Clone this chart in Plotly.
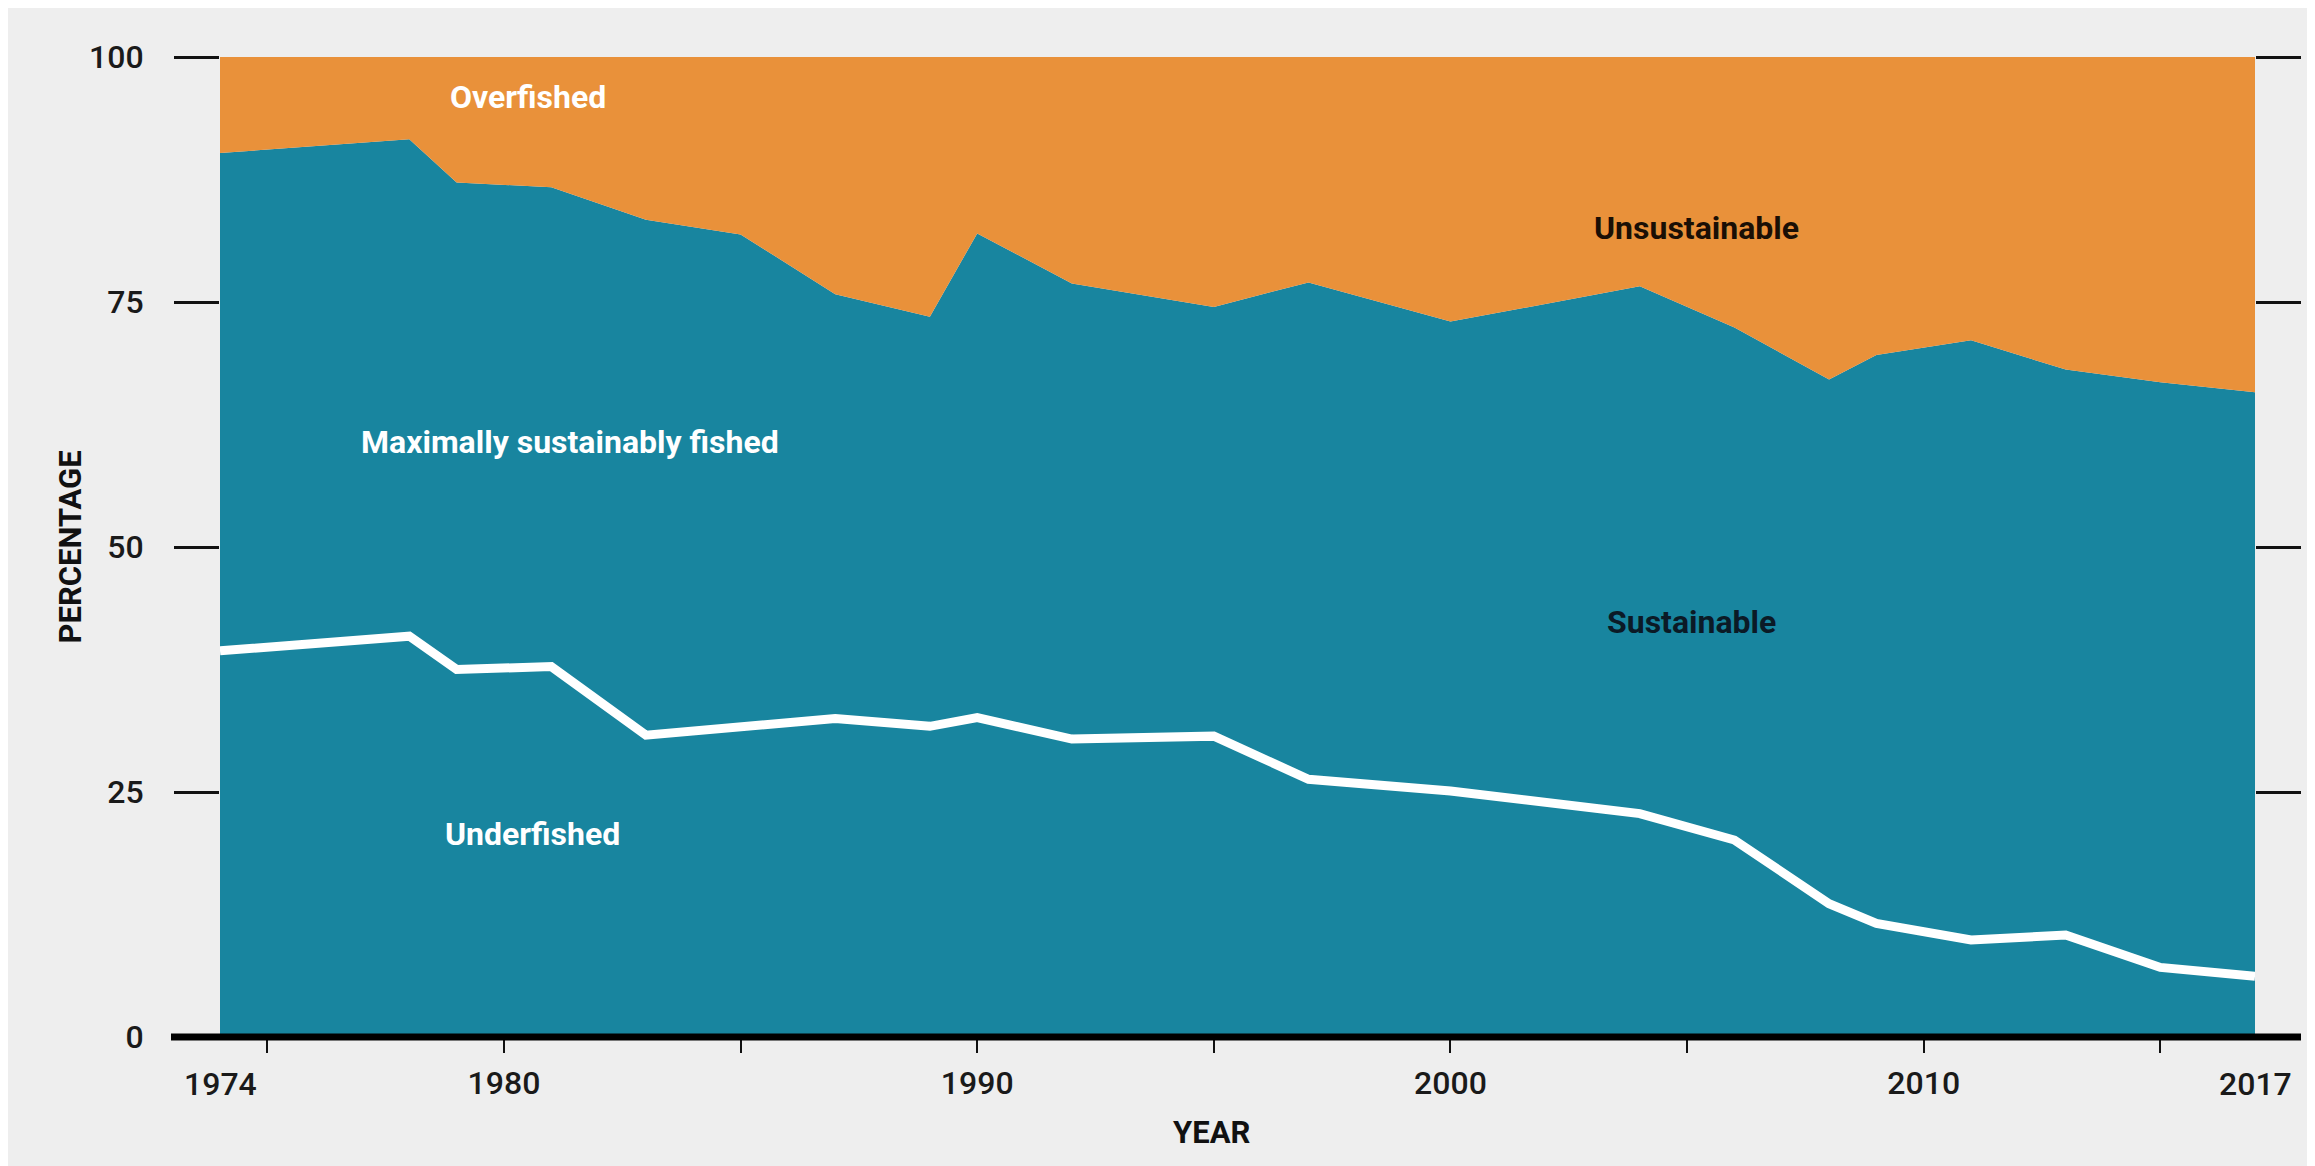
import plotly.graph_objects as go

# ---- data ----
years = [1974, 1978, 1979, 1981, 1983, 1985, 1987, 1989, 1990, 1992, 1995,
         1997, 2000, 2004, 2006, 2008, 2009, 2011, 2013, 2015, 2017]
# share of stocks fished within biologically sustainable levels (%)
sustainable = [90.2, 91.6, 87.2, 86.7, 83.4, 81.9, 75.8, 73.5, 82.0, 76.9, 74.5,
               77.0, 73.0, 76.6, 72.4, 67.1, 69.6, 71.1, 68.1, 66.8, 65.8]
# share of underfished stocks (%)
underfished = [39.4, 40.9, 37.5, 37.8, 30.8, 31.7, 32.5, 31.7, 32.6, 30.4, 30.7,
               26.3, 25.1, 22.8, 20.1, 13.6, 11.6, 9.9, 10.4, 7.1, 6.2]
maximally = [round(s - u, 2) for s, u in zip(sustainable, underfished)]
overfished = [round(100 - s, 2) for s in sustainable]

x_tick_vals = [1975, 1980, 1985, 1990, 1995, 2000, 2005, 2010, 2015]
x_tick_text = ["", "1980", "", "1990", "", "2000", "", "2010", ""]
y_tick_vals = [0, 25, 50, 75, 100]

TEAL = "#18859F"
ORANGE = "#E9913A"
BG = "#EEEEEE"
FONT = "Roboto, Liberation Sans Narrow, sans-serif"
TICKFONT = dict(size=32, family=FONT, color="#1a1a1a", weight=500)

fig = go.Figure()
fig.add_trace(go.Scatter(x=years, y=underfished, stackgroup="s", mode="lines",
                         line=dict(width=0), fillcolor=TEAL, name="Underfished",
                         hoverinfo="skip"))
fig.add_trace(go.Scatter(x=years, y=maximally, stackgroup="s", mode="lines",
                         line=dict(width=0), fillcolor=TEAL,
                         name="Maximally sustainably fished", hoverinfo="skip"))
fig.add_trace(go.Scatter(x=years, y=overfished, stackgroup="s", mode="lines",
                         line=dict(width=0), fillcolor=ORANGE, name="Overfished",
                         hoverinfo="skip"))
fig.add_trace(go.Scatter(x=years, y=underfished, mode="lines",
                         line=dict(color="white", width=9), name="Underfished line",
                         hoverinfo="skip"))

W, H = 2315, 1166
L, R, T, B = 212, 68, 49, 137
pw = W - L - R
ph = H - T - B

fig.update_layout(
    width=W, height=H,
    margin=dict(l=L, r=R, t=T, b=B),
    paper_bgcolor=BG, plot_bgcolor=BG,
    showlegend=False,
    font=dict(family=FONT, color="#1a1a1a"),
    xaxis=dict(range=[years[0], years[-1]], tickmode="array",
               tickvals=x_tick_vals, ticktext=x_tick_text,
               ticks="outside", ticklen=15, tickwidth=2, tickcolor="#111",
               showgrid=False, zeroline=False, showline=False,
               tickfont=TICKFONT, ticklabelstandoff=3),
    yaxis=dict(range=[0, 100], tickmode="array", tickvals=y_tick_vals,
               ticks="outside", ticklen=45, tickwidth=2.5, tickcolor="#111",
               mirror="ticks", showgrid=False, zeroline=False, showline=False,
               tickfont=TICKFONT, ticklabelstandoff=24),
)

# thick baseline extending beyond the data area
fig.add_shape(type="line", xref="paper", yref="paper",
              x0=-49 / pw, x1=1 + 46 / pw, y0=0, y1=0,
              line=dict(color="black", width=7), layer="above")

# end-year labels (no tick marks at the data ends)
for yr in (years[0], years[-1]):
    fig.add_annotation(x=yr, y=0, xref="x", yref="paper", text=str(yr),
                       showarrow=False, yshift=-47, yanchor="middle",
                       font=TICKFONT)

# axis titles
fig.add_annotation(x=(41 - L) / pw, y=0.5, xref="paper", yref="paper",
                   text="PERCENTAGE", textangle=-90, showarrow=False,
                   font=dict(size=31, family=FONT, color="#111", weight="bold"))
fig.add_annotation(x=(1203 - L) / pw, y=-(1145 - (H - B)) / ph, xref="paper",
                   yref="paper", text="YEAR", showarrow=False,
                   font=dict(size=31, family=FONT, color="#111", weight="bold"))

# in-area labels
labels = [
    ("Overfished", 1980.5, 95.9, "white"),
    ("Maximally sustainably fished", 1981.4, 60.7, "white"),
    ("Underfished", 1980.6, 20.7, "white"),
    ("Unsustainable", 2005.2, 82.6, "#1a0f05"),
    ("Sustainable", 2005.1, 42.3, "#0b1a26"),
]
for txt, lx, ly, col in labels:
    fig.add_annotation(x=lx, y=ly, xref="x", yref="y", text=txt, showarrow=False,
                       font=dict(size=32, family=FONT, color=col, weight="bold"))

fig.write_html("out.html")
